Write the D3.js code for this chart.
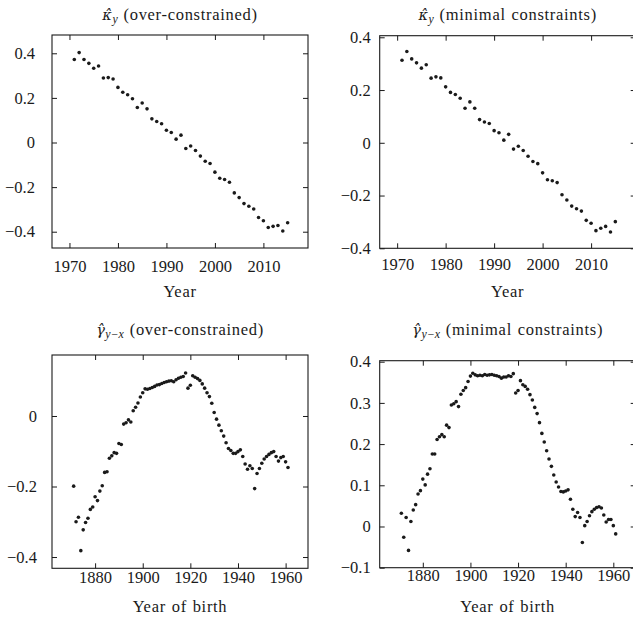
<!DOCTYPE html>
<html><head><meta charset="utf-8">
<script src="https://cdn.jsdelivr.net/npm/d3@7"></script>
<style>
body{margin:0;background:#fff}
svg{display:block}
text{font-family:"Liberation Serif","DejaVu Serif","Times New Roman",serif;fill:#1a1a1a}
</style>
</head><body>
<svg id="c" width="633" height="625"></svg>
<script>
const periodYears = [1971,1972,1973,1974,1975,1976,1977,1978,1979,1980,1981,1982,1983,1984,1985,1986,1987,1988,1989,1990,1991,1992,1993,1994,1995,1996,1997,1998,1999,2000,2001,2002,2003,2004,2005,2006,2007,2008,2009,2010,2011,2012,2013,2014,2015];
const kappaOver = [0.372,0.403,0.372,0.355,0.333,0.343,0.289,0.291,0.285,0.247,
  0.225,0.214,0.196,0.157,0.177,0.151,0.106,0.094,0.084,0.055,
  0.045,0.015,0.033,-0.027,-0.016,-0.036,-0.061,-0.084,-0.094,-0.133,
  -0.160,-0.166,-0.178,-0.226,-0.247,-0.274,-0.286,-0.298,-0.336,-0.351,
  -0.381,-0.376,-0.372,-0.397,-0.360];
const kappaMin = [0.313,0.346,0.318,0.303,0.283,0.296,0.245,0.250,0.246,0.212,
  0.191,0.183,0.169,0.131,0.155,0.131,0.088,0.079,0.073,0.046,
  0.038,0.010,0.032,-0.024,-0.013,-0.029,-0.051,-0.071,-0.079,-0.114,
  -0.140,-0.144,-0.151,-0.197,-0.217,-0.240,-0.250,-0.259,-0.294,-0.305,
  -0.333,-0.324,-0.317,-0.338,-0.299];
const cohortYears = [1871,1872,1873,1874,1875,1876,1877,1878,1879,1880,
  1881,1882,1883,1884,1885,1886,1887,1888,1889,1890,
  1891,1892,1893,1894,1895,1896,1897,1898,1899,1900,
  1901,1902,1903,1904,1905,1906,1907,1908,1909,1910,
  1911,1912,1913,1914,1915,1916,1917,1918,1919,1920,
  1921,1922,1923,1924,1925,1926,1927,1928,1929,1930,
  1931,1932,1933,1934,1935,1936,1937,1938,1939,1940,
  1941,1942,1943,1944,1945,1946,1947,1948,1949,1950,
  1951,1952,1953,1954,1955,1956,1957,1958,1959,1960,1961];
const gammaOver = [-0.199,-0.300,-0.287,-0.382,-0.323,-0.302,-0.290,-0.265,-0.258,-0.229,
  -0.240,-0.213,-0.198,-0.160,-0.158,-0.120,-0.113,-0.104,-0.106,-0.078,
  -0.081,-0.023,-0.019,-0.011,-0.017,0.015,0.025,0.037,0.054,0.066,
  0.077,0.076,0.078,0.081,0.084,0.088,0.089,0.092,0.095,0.097,
  0.099,0.100,0.097,0.103,0.107,0.110,0.112,0.122,0.079,0.087,
  0.114,0.110,0.106,0.101,0.091,0.079,0.066,0.055,0.036,0.010,
  -0.009,-0.026,-0.042,-0.057,-0.076,-0.092,-0.098,-0.106,-0.106,-0.101,
  -0.096,-0.115,-0.136,-0.151,-0.141,-0.149,-0.206,-0.163,-0.149,-0.134,
  -0.122,-0.115,-0.109,-0.104,-0.101,-0.115,-0.128,-0.118,-0.115,-0.130,-0.146];
const gammaMin = [0.032,-0.026,0.022,-0.058,0.012,0.040,0.053,0.079,0.087,0.115,
  0.101,0.127,0.140,0.176,0.176,0.211,0.218,0.223,0.218,0.246,
  0.240,0.295,0.298,0.303,0.291,0.321,0.330,0.337,0.352,0.365,
  0.372,0.368,0.366,0.367,0.366,0.369,0.367,0.368,0.369,0.367,
  0.366,0.364,0.360,0.363,0.363,0.366,0.364,0.371,0.324,0.330,
  0.354,0.344,0.340,0.333,0.320,0.307,0.289,0.274,0.252,0.226,
  0.205,0.184,0.164,0.146,0.125,0.108,0.096,0.085,0.084,0.086,
  0.089,0.066,0.042,0.024,0.034,0.022,-0.039,0.002,0.012,0.026,
  0.036,0.042,0.046,0.048,0.045,0.028,0.011,0.017,0.017,0.002,-0.018];

const periodTicks = [1970,1980,1990,2000,2010];
const cohortTicks = [1880,1900,1920,1940,1960];
const kappaTicks = [-0.4,-0.2,0,0.2,0.4];
const gammaOverTicks = [-0.4,-0.2,0];
const gammaMinTicks = [-0.1,0,0.1,0.2,0.3,0.4];

const titles = [
  {sym:"κ\u0302", sub:"y", rest:" (over-constrained)"},
  {sym:"κ\u0302", sub:"y", rest:" (minimal constraints)"},
  {sym:"γ\u0302", sub:"y−x", rest:" (over-constrained)"},
  {sym:"γ\u0302", sub:"y−x", rest:" (minimal constraints)"}
];
const xLabels = ["Year","Year","Year of birth","Year of birth"];

const panels = [
  {x0:52,   x1:308,   y0:35,    y1:248,   xd:[1966.4,2019.2], yd:[-0.473,0.482], xs:periodYears, ys:kappaOver, xt:periodTicks, yt:kappaTicks, ti:0, tY:20,  xtY:272, xlY:297, lpad:17},
  {x0:379.7,x1:635.7, y0:35.7,  y1:248.3, xd:[1966.4,2019.2], yd:[-0.4,0.406],   xs:periodYears, ys:kappaMin,  xt:periodTicks, yt:kappaTicks, ti:1, tY:20,  xtY:270, xlY:297, lpad:9},
  {x0:52,   x1:308,   y0:355,   y1:568.3, xd:[1861.9,1969.4], yd:[-0.432,0.173], xs:cohortYears, ys:gammaOver, xt:cohortTicks, yt:gammaOverTicks, ti:2, tY:335, xtY:583, xlY:612, lpad:15},
  {x0:379.7,x1:635.7, y0:360.7, y1:567.7, xd:[1861.9,1969.4], yd:[-0.1,0.4024],  xs:cohortYears, ys:gammaMin,  xt:cohortTicks, yt:gammaMinTicks, ti:3, tY:335, xtY:581, xlY:612, lpad:9}
];

const svg = d3.select("#c");
const FS = 16.5;
const FF = "'Liberation Serif','DejaVu Serif',serif";
const ink = "#1a1a1a";
const fmtY = d => d === 0 ? "0" : d3.format(".1f")(d).replace("-", "−");

panels.forEach(p => {
  const x = d3.scaleLinear().domain(p.xd).range([p.x0, p.x1]);
  const y = d3.scaleLinear().domain(p.yd).range([p.y1, p.y0]);
  const g = svg.append("g");

  g.append("g").attr("transform", `translate(0,${p.y1})`)
    .call(d3.axisBottom(x).tickValues(p.xt).tickSize(-5).tickPadding(p.xtY - p.y1 - 0.71*FS).tickFormat(d3.format("d")));
  g.append("g").attr("transform", `translate(0,${p.y0})`)
    .call(d3.axisTop(x).tickValues(p.xt).tickSize(-5).tickFormat(""));
  g.append("g").attr("transform", `translate(${p.x0},0)`)
    .call(d3.axisLeft(y).tickValues(p.yt).tickSize(-5).tickPadding(p.lpad).tickFormat(fmtY));
  g.append("g").attr("transform", `translate(${p.x1},0)`)
    .call(d3.axisRight(y).tickValues(p.yt).tickSize(-5).tickFormat(""));

  g.selectAll(".domain").remove();
  g.selectAll(".tick line").attr("stroke", ink).attr("stroke-width", 1);
  g.selectAll(".tick text").attr("font-family", FF).attr("font-size", FS).attr("fill", ink);

  g.append("rect").attr("x", p.x0).attr("y", p.y0)
    .attr("width", p.x1 - p.x0).attr("height", p.y1 - p.y0)
    .attr("fill", "none").attr("stroke", ink).attr("stroke-width", 1.1);

  g.append("g").selectAll("circle").data(p.xs.map((v,i)=>[v,p.ys[i]])).join("circle")
    .attr("cx", d => x(d[0])).attr("cy", d => y(d[1])).attr("r", 1.8).attr("fill", ink);

  const cx = (p.x0 + p.x1) / 2;
  const t = titles[p.ti];
  const tt = g.append("text").attr("x", cx).attr("y", p.tY).attr("text-anchor", "middle")
    .attr("font-family", FF).attr("font-size", FS);
  tt.append("tspan").attr("font-family", "'DejaVu Serif',serif").attr("font-style", "italic")
    .attr("font-size", FS*0.88).text(t.sym);
  tt.append("tspan").attr("font-style", "italic").attr("font-size", FS*0.72).attr("dy", 3).attr("dx", 0.5).text(t.sub);
  tt.append("tspan").attr("dy", -3).attr("letter-spacing", 0.7).attr("word-spacing", 1).text(t.rest);

  g.append("text").attr("x", cx).attr("y", p.xlY).attr("text-anchor", "middle")
    .attr("font-family", FF).attr("font-size", FS)
    .attr("letter-spacing", 0.7).attr("word-spacing", 1).text(xLabels[p.ti]);
});
</script>
</body></html>
